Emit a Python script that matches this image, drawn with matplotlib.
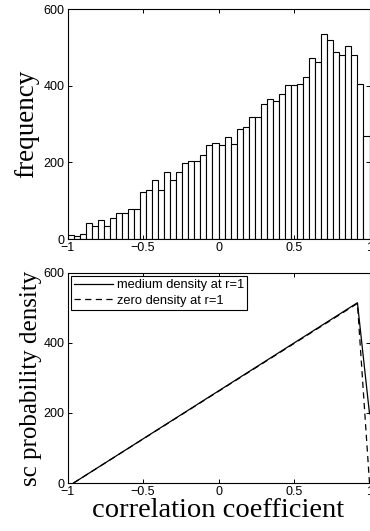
import numpy as np
import matplotlib
matplotlib.use("Agg")
import matplotlib.pyplot as plt

# ---- data ----
bin_edges_range = (-1.0, 1.0)
counts = [10, 9, 14, 41, 35, 50, 35, 55, 69, 69,
          79, 78, 123, 128, 154, 128, 175, 155, 175, 198,
          203, 204, 220, 246, 251, 244, 267, 249, 287, 293,
          319, 319, 351, 364, 359, 377, 402, 402, 404, 423,
          473, 461, 534, 519, 487, 479, 504, 481, 404, 269]

medium_x = [-0.96, 0.92, 1.0]
medium_y = [0, 515, 198]
zero_x = [-0.96, 0.92, 1.0]
zero_y = [0, 513, 0]

xticks = [-1, -0.5, 0, 0.5, 1]
xticklabels = ["\u22121", "\u22120.5", "0", "0.5", "1"]
yticks = [0, 200, 400, 600]
yticklabels = ["0", "200", "400", "600"]

sans = ["Liberation Sans", "DejaVu Sans"]
serif = ["Liberation Serif", "DejaVu Serif"]
plt.rcParams['font.family'] = sans

W, H = 370, 531
fig = plt.figure(figsize=(W / 100, H / 100), dpi=100)

def frac(l, t, r, b):
    return [l / W, 1 - b / H, (r - l) / W, (b - t) / H]

def style(ax):
    ax.set_xlim(-1, 1)
    ax.set_ylim(0, 600)
    ax.set_xticks(xticks)
    ax.set_xticklabels(xticklabels)
    ax.set_yticks(yticks)
    ax.set_yticklabels(yticklabels)
    ax.tick_params(direction='in', length=3, width=0.7, top=True, right=True,
                   labelsize=9, pad=2, colors='black')
    for s in ax.spines.values():
        s.set_linewidth(0.8)

ax1 = fig.add_axes(frac(67.5, 9, 369.5, 239))
edges = np.linspace(bin_edges_range[0], bin_edges_range[1], len(counts) + 1)
centers = (edges[:-1] + edges[1:]) / 2
ax1.bar(centers, counts, width=edges[1] - edges[0], color='white',
        edgecolor='black', linewidth=0.8)
style(ax1)
ax1.set_ylabel("frequency", family=serif, fontsize=19.5, labelpad=3)

ax2 = fig.add_axes(frac(67.5, 273, 369.5, 483))
ax2.plot(medium_x, medium_y, color='black', linewidth=0.9, label="medium density at r=1")
ax2.plot(zero_x, zero_y, color='black', linewidth=0.9, linestyle=(0, (5, 3.5)),
         label="zero density at r=1")
style(ax2)
ax2.set_ylabel("sc probability density", family=serif, fontsize=18, labelpad=1)
ax2.set_xlabel("correlation coefficient", family=serif, fontsize=20.5, labelpad=0)
leg = ax2.legend(loc='upper left', fontsize=9.3, handlelength=3.0, fancybox=False,
                 framealpha=1, edgecolor='black', borderaxespad=0.25,
                 borderpad=0.25, labelspacing=0.25, handletextpad=0.3)
leg.get_frame().set_linewidth(0.8)

fig.savefig("out.png", dpi=100)
